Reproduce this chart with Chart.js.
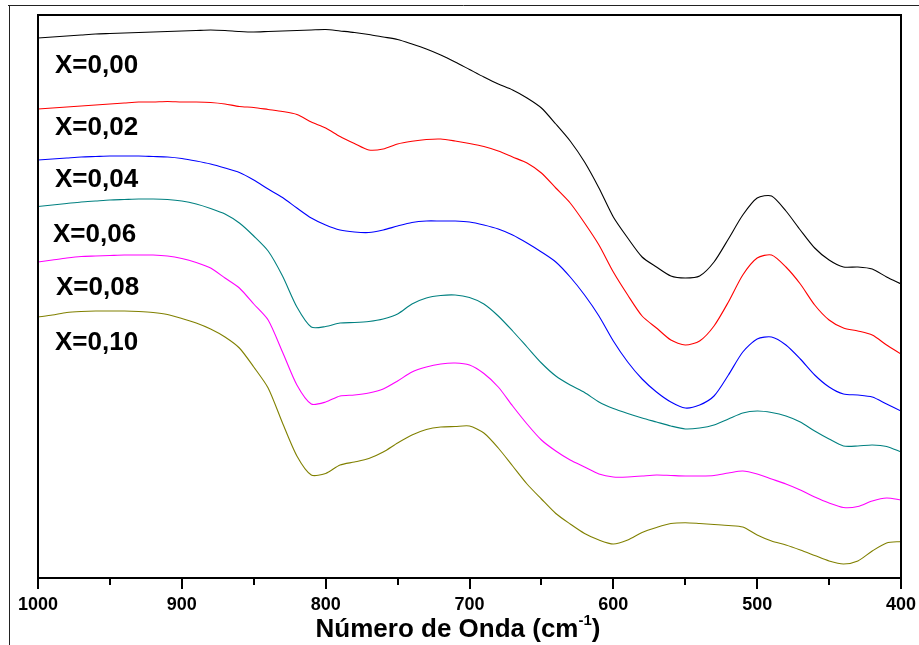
<!DOCTYPE html>
<html>
<head>
<meta charset="utf-8">
<script src="https://cdn.jsdelivr.net/npm/chart.js@4"></script>
<style>
  body { margin: 0; background: #fff; }
  canvas { display: block; }
</style>
</head>
<body>
<canvas id="ftirChart" width="919" height="645"></canvas>
<script>
// wavenumber grid (cm-1)
const wavenumbers = [
    1000, 990, 980, 970, 960, 950, 940, 930, 920, 910,
    900, 890, 880, 870, 860, 850, 840, 830, 820, 810,
    800, 790, 780, 770, 760, 750, 740, 730, 720, 710,
    700, 690, 680, 670, 660, 650, 640, 630, 620, 610,
    600, 590, 580, 570, 560, 550, 540, 530, 520, 510,
    500, 490, 480, 470, 460, 450, 440, 430, 420, 410,
    400
];

const xTicks = [1000, 900, 800, 700, 600, 500, 400];

const seriesNames = ["X=0,00", "X=0,02", "X=0,04", "X=0,06", "X=0,08", "X=0,10"];

// transmittance, arbitrary units (curves are offset)
const x000 = [
    540, 541, 542, 543, 544, 544.5, 545, 545.5, 546, 546.5,
    547, 547.5, 548, 547.5, 546.5, 546, 546.5, 547, 547.5, 548,
    548.5, 547, 545.5, 543.5, 541, 538.5, 534, 529, 523, 516,
    508.5, 501, 494, 488, 480, 470, 454, 437, 416, 390,
    361, 340, 321, 311, 302, 300, 302, 316, 339, 363,
    380, 382, 367, 348, 330, 318, 311, 311, 309, 301,
    294
];

const x002 = [
    469, 470, 471, 472, 473, 474, 475, 476, 476, 476.5,
    476, 476, 475.5, 474, 471.5, 470.5, 468.5, 466.5, 463.5, 456,
    450, 441.5, 434.5, 428, 429, 434, 436.7, 438.5, 439, 437,
    434.5, 431.5, 427, 421, 415, 405, 390, 375, 355, 333,
    306, 283, 262, 250, 238, 233, 237, 252, 276, 303,
    320, 323, 311, 294, 273, 258, 250, 247, 243, 233,
    224
];

const x004 = [
    418, 419, 420, 421, 421.5, 422, 422, 422, 421.5, 421,
    419.5, 417, 414, 410, 405.5, 398, 389, 380.5, 370, 360,
    353, 348, 346, 345.5, 348, 352, 355.5, 357, 357, 357,
    356, 353, 349, 343, 335, 326, 316, 301, 283, 262,
    237, 216, 199, 186, 176, 170, 173, 182, 203, 226,
    239, 241, 233, 219, 203, 191, 184, 183, 181, 174,
    167
];

const x006 = [
    371.5, 373, 374.5, 376, 377, 378, 378.5, 379, 379, 378.5,
    377, 374, 369.5, 364, 355, 342, 327, 302, 271, 251,
    251.5, 255, 255.5, 256.5, 259, 264, 274, 280, 282.5, 283,
    280.5, 274, 262, 247, 231, 215, 202, 193, 185.5, 176,
    169.5, 164.5, 160, 156, 152, 149, 150, 153, 159, 165,
    167, 165.5, 162, 156, 147, 139, 132, 132, 133, 131.5,
    126
];

const x008 = [
    316, 318, 320, 321.5, 322, 322.5, 323, 323, 323, 322,
    319.5, 315.5, 310, 300, 290, 274, 258, 226, 193, 174,
    176, 182, 183, 185, 189, 197, 206, 211, 214, 215,
    213, 204.5, 191, 172, 154, 138, 127, 118, 111, 104,
    101, 101, 102, 103, 102.5, 102, 102, 102.5, 105, 107,
    104, 99, 94, 88, 81, 75, 70.5, 71.5, 77, 80,
    78
];

const x010 = [
    261, 263, 265.5, 266.5, 267, 267, 267, 266.5, 265.5, 263.5,
    259.5, 255, 249, 241, 230, 211, 190, 155, 122, 103,
    104.5, 113, 116, 119.5, 126, 135, 143, 148.5, 151, 151.5,
    152, 145, 130, 112, 94, 79, 64.5, 54, 44.5, 38,
    34, 38, 45.5, 50.5, 54.5, 55.3, 54.5, 53.5, 52.5, 51,
    43, 37, 33, 28, 22.5, 17, 14, 17, 27, 35,
    36.5
];

const seriesValues = [x000, x002, x004, x006, x008, x010];
const seriesColors = ["#000000", "#ff0000", "#0000ff", "#008080", "#ff00ff", "#808000"];

// where the curve names sit (left edge, baseline) in canvas pixels
const nameSpots = [[55, 73], [55, 135], [55, 187], [53, 242], [56, 295], [55, 350]];

const FONT = "Arial, 'Liberation Sans', sans-serif";

const framePlugin = {
    id: "frame",
    afterDraw(chart) {
        const c = chart.ctx;
        const area = chart.chartArea;
        const xs = chart.scales.x;

        c.save();

        // outer picture border (top and left only)
        c.strokeStyle = "#222";
        c.lineWidth = 1;
        c.beginPath();
        c.moveTo(8, 5.5);
        c.lineTo(919, 5.5);
        c.moveTo(9.5, 5);
        c.lineTo(9.5, 645);
        c.stroke();

        // plot frame
        c.strokeStyle = "#000";
        c.lineWidth = 2;
        c.strokeRect(area.left, area.top, area.right - area.left, area.bottom - area.top);

        // tick marks, major every 100 and minor every 50
        c.beginPath();
        for (let v = 1000; v >= 400; v -= 50) {
            const px = Math.round(xs.getPixelForValue(v));
            const len = v % 100 === 0 ? 11 : 7;
            c.moveTo(px, area.bottom);
            c.lineTo(px, area.bottom + len);
        }
        c.stroke();

        // axis title with superscript
        c.fillStyle = "#000";
        c.textBaseline = "alphabetic";
        c.textAlign = "left";
        const main = "Número de Onda (cm";
        const sup = "-1";
        c.font = "bold 26px " + FONT;
        const wMain = c.measureText(main).width;
        const wClose = c.measureText(")").width;
        c.font = "bold 15px " + FONT;
        const wSup = c.measureText(sup).width;
        const total = wMain + wSup + wClose;
        let tx = 458 - total / 2;
        const ty = 637;
        c.font = "bold 26px " + FONT;
        c.fillText(main, tx, ty);
        c.font = "bold 15px " + FONT;
        c.fillText(sup, tx + wMain, ty - 12);
        c.font = "bold 26px " + FONT;
        c.fillText(")", tx + wMain + wSup, ty);

        // curve names
        c.font = "bold 26px " + FONT;
        seriesNames.forEach((name, i) => {
            c.fillText(name, nameSpots[i][0], nameSpots[i][1]);
        });

        c.restore();
    }
};

const ctx = document.getElementById("ftirChart");

const chart = new Chart(ctx, {
    type: "line",
    data: {
        datasets: seriesValues.map((vals, i) => ({
            label: seriesNames[i],
            data: wavenumbers.map((w, j) => ({ x: w, y: vals[j] })),
            borderColor: seriesColors[i],
            borderWidth: 1.1,
            pointRadius: 0,
            tension: 0.25,
            fill: false
        }))
    },
    options: {
        responsive: false,
        animation: false,
        layout: {
            padding: { left: 38, right: 18, top: 15, bottom: 0 }
        },
        plugins: {
            legend: { display: false },
            tooltip: { enabled: false }
        },
        scales: {
            x: {
                type: "linear",
                reverse: true,
                min: 400,
                max: 1000,
                afterBuildTicks: (scale) => {
                    scale.ticks = xTicks.map(v => ({ value: v }));
                },
                afterFit: (scale) => {
                    scale.height = 67;
                    scale.paddingLeft = 0;
                    scale.paddingRight = 0;
                },
                grid: { display: false, drawTicks: false },
                border: { display: false },
                ticks: {
                    color: "#000",
                    padding: 16,
                    maxRotation: 0,
                    autoSkip: false,
                    callback: (v) => String(v),
                    font: { family: FONT, size: 18, weight: "bold" }
                }
            },
            y: {
                display: false,
                min: 0,
                max: 563
            }
        }
    },
    plugins: [framePlugin]
});
</script>
</body>
</html>
